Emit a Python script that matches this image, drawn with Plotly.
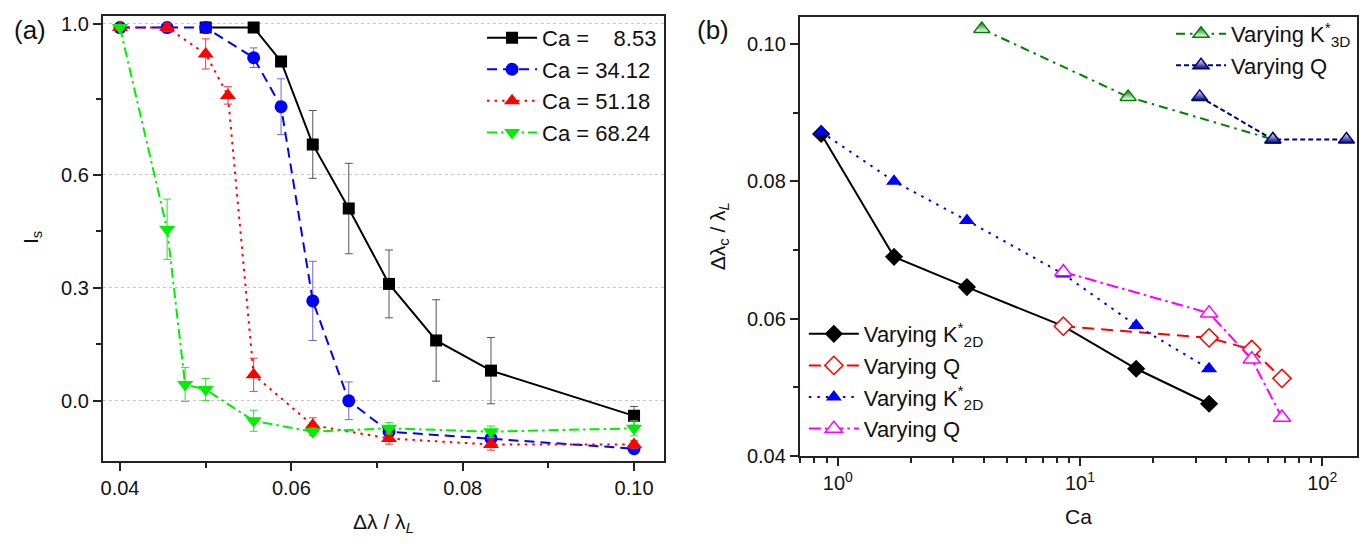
import plotly.graph_objects as go

# ---------------- Panel (a) data ----------------
x_a_black = [0.05, 0.0556, 0.0588, 0.0625, 0.0667, 0.0714, 0.0769, 0.0833, 0.10]
y_a_black = [0.99, 0.99, 0.90, 0.68, 0.51, 0.31, 0.16, 0.08, -0.04]
e_a_black = [0, 0, 0, 0.09, 0.12, 0.09, 0.108, 0.088, 0.025]

x_a_blue = [0.04, 0.0455, 0.05, 0.0556, 0.0588, 0.0625, 0.0667, 0.0714, 0.0833, 0.10]
y_a_blue = [0.99, 0.99, 0.99, 0.91, 0.78, 0.265, 0.0, -0.082, -0.10, -0.127]
e_a_blue = [0, 0, 0, 0.026, 0.074, 0.105, 0.05, 0.012, 0.012, 0.012]

x_a_red = [0.04, 0.0455, 0.05, 0.0526, 0.0556, 0.0625, 0.0714, 0.0833, 0.10]
y_a_red = [0.99, 0.99, 0.92, 0.81, 0.069, -0.065, -0.10, -0.116, -0.116]
e_a_red = [0, 0.01, 0.04, 0.023, 0.044, 0.02, 0.015, 0.015, 0.01]

x_a_green = [0.04, 0.0455, 0.0476, 0.05, 0.0556, 0.0625, 0.0714, 0.0833, 0.10]
y_a_green = [0.99, 0.455, 0.043, 0.030, -0.053, -0.082, -0.073, -0.082, -0.073]
e_a_green = [0, 0.08, 0.045, 0.029, 0.028, 0.01, 0.015, 0.015, 0.02]

names_a = ["Ca =\u00a0\u00a0\u00a0\u00a08.53", "Ca = 34.12", "Ca = 51.18", "Ca = 68.24"]

a_yticks = [0.0, 0.3, 0.6, 1.0]
a_yminor = [0.15, 0.45, 0.8]
a_xticks = [0.04, 0.06, 0.08, 0.10]
a_xminor = [0.05, 0.07, 0.09]

# ---------------- Panel (b) data ----------------
ca_k2d = [0.853, 1.706, 3.412, 8.53, 17.06, 34.12]
y_k2d_black = [0.0869, 0.0690, 0.0646, 0.0589, 0.0527, 0.0476]
y_k2d_blue = [0.0872, 0.0800, 0.0743, 0.0665, 0.0590, 0.0527]

ca_q = [8.53, 34.12, 51.18, 68.24]
y_q_red = [0.0589, 0.0572, 0.0555, 0.0513]
y_q_magenta = [0.0668, 0.0608, 0.0541, 0.0456]

ca_k3d = [3.93, 15.8, 62.6]
y_k3d = [0.1022, 0.0923, 0.0861]

ca_q3d = [31.2, 62.6, 126.0]
y_q3d = [0.0923, 0.0861, 0.0861]

b_yticks = [0.04, 0.06, 0.08, 0.10]
b_yminor = [0.05, 0.07, 0.09]
b_xticks = [1, 10, 100]
b_xticktext = ["10<sup>0</sup>", "10<sup>1</sup>", "10<sup>2</sup>"]
b_xminor = [0.7, 0.8, 0.9, 2, 3, 4, 5, 6, 7, 8, 9, 20, 30, 40, 50, 60, 70, 80, 90]

FONT = "Liberation Sans, Arial, sans-serif"
TICK = 20
LEG = 22
TITLE = 21

fig = go.Figure()

# Panel (a) traces
def add_a(x, y, e, name, color, ecolor, dash, symbol, size):
    fig.add_trace(go.Scatter(
        x=x, y=y, name=name, mode="lines+markers",
        line=dict(color=color, width=2, dash=dash),
        marker=dict(symbol=symbol, size=size, color=color),
        error_y=dict(type="data", array=e, visible=True, color=ecolor,
                     thickness=1, width=4),
        xaxis="x", yaxis="y", legend="legend"))

add_a(x_a_black, y_a_black, e_a_black, names_a[0], "black", "#555555", "solid", "square", 12)
add_a(x_a_blue, y_a_blue, e_a_blue, names_a[1], "#0000ff", "#6a6ad8", "10px,6px", "circle", 13)
add_a(x_a_red, y_a_red, e_a_red, names_a[2], "#ff0000", "#ff3030", "2.5px,5px", "triangle-up", 14)
add_a(x_a_green, y_a_green, e_a_green, names_a[3], "#00ee00", "#33dd33", "10px,4px,2.5px,4px", "triangle-down", 14)

# Panel (b) traces
def add_b(x, y, name, color, dash, marker, legend):
    fig.add_trace(go.Scatter(
        x=x, y=y, name=name, mode="lines+markers",
        line=dict(color=color, width=2, dash=dash),
        marker=marker, xaxis="x2", yaxis="y2", legend=legend))

add_b(ca_k2d, y_k2d_black, "Varying K<sup>*</sup><sub>2D</sub>", "black", "solid",
      dict(symbol="diamond", size=14, color="black"), "legend3")
add_b(ca_q, y_q_red, "Varying Q", "#ff0000", "12px,7px",
      dict(symbol="diamond", size=14, color="white", line=dict(color="#ff0000", width=1.5)), "legend3")
add_b(ca_k2d, y_k2d_blue, "Varying K<sup>*</sup><sub>2D</sub>", "#0000ff", "2.5px,6px",
      dict(symbol="triangle-up", size=14, color="#0000ff"), "legend3")
add_b(ca_q, y_q_magenta, "Varying Q", "#ff00ff", "12px,4px,2.5px,4px",
      dict(symbol="triangle-up", size=15, color="white", line=dict(color="#ff00ff", width=1.5)), "legend3")
add_b(ca_k3d, y_k3d, "Varying K<sup>*</sup><sub>3D</sub>", "#008000", "9px,5px,2.5px,5px",
      dict(symbol="triangle-up", size=14, color="#008000",
           gradient=dict(type="vertical", color="white"),
           line=dict(color="#008000", width=1.5)), "legend2")
add_b(ca_q3d, y_q3d, "Varying Q", "#000080", "5px,3px",
      dict(symbol="triangle-up", size=14, color="white",
           gradient=dict(type="vertical", color="#000080"),
           line=dict(color="#000080", width=1.5)), "legend2")

W, H = 1369, 544
def px(v):
    return v / W
def py(v):
    return (H - v) / H

axis_common = dict(showline=True, linecolor="#222222", linewidth=2, mirror=True,
                   ticks="outside", ticklen=8, tickwidth=1.5, tickcolor="#222222",
                   tickfont=dict(family=FONT, size=TICK, color="#111111"),
                   zeroline=False, showgrid=False)

minor_style = dict(tickmode="array", ticks="outside", ticklen=5,
                   tickcolor="#222222", tickwidth=1.5)

fig.update_layout(
    width=W, height=H, autosize=False,
    margin=dict(l=0, r=0, t=0, b=0),
    paper_bgcolor="white", plot_bgcolor="white",
    font=dict(family=FONT, color="#111111"),
    xaxis=dict(domain=[px(93), px(655)], range=[0.038, 0.1035],
               tickmode="array", tickvals=a_xticks, tickformat=".2f",
               minor=dict(tickvals=a_xminor, **minor_style),
               title=dict(text="Δλ / λ<sub><i>L</i></sub>",
                          font=dict(family=FONT, size=TITLE), standoff=16),
               anchor="y", **axis_common),
    yaxis=dict(domain=[py(462), py(5)], range=[-0.16, 1.021],
               tickmode="array", tickvals=a_yticks, tickformat=".1f",
               minor=dict(tickvals=a_yminor, **minor_style),
               anchor="x", **{**axis_common, "showgrid": True},
               gridcolor="#c8c8c8", griddash="dot", gridwidth=1),
    xaxis2=dict(domain=[px(791), px(1349)], type="log", range=[-0.157, 2.144],
                tickmode="array", tickvals=b_xticks, ticktext=b_xticktext,
                minor=dict(tickvals=b_xminor, **minor_style),
                title=dict(text="Ca", font=dict(family=FONT, size=TITLE), standoff=16),
                anchor="y2", **axis_common),
    yaxis2=dict(domain=[py(456.7), py(5.7)], range=[0.04, 0.104],
                tickmode="array", tickvals=b_yticks, tickformat=".2f",
                minor=dict(tickvals=b_yminor, **minor_style),
                title=dict(text="Δλ<sub>c</sub> / λ<sub><i>L</i></sub>",
                           font=dict(family=FONT, size=TITLE), standoff=16),
                anchor="x2", **axis_common),
    legend=dict(x=px(653), y=py(6), xanchor="right", yanchor="top",
                bgcolor="rgba(255,255,255,0)", font=dict(family=FONT, size=LEG),
                itemwidth=50, tracegroupgap=0),
    legend2=dict(x=px(1348), y=py(2), xanchor="right", yanchor="top",
                 bgcolor="rgba(255,255,255,0)", font=dict(family=FONT, size=LEG),
                 itemwidth=50),
    legend3=dict(x=px(795), y=py(310), xanchor="left", yanchor="top",
                 bgcolor="rgba(255,255,255,0)", font=dict(family=FONT, size=LEG),
                 itemwidth=50),
    annotations=[
        dict(text="(a)", x=px(2), y=py(20), xref="paper", yref="paper",
             xanchor="left", yanchor="middle", showarrow=False,
             font=dict(family=FONT, size=26, color="#111111")),
        dict(text="(b)", x=px(686), y=py(20), xref="paper", yref="paper",
             xanchor="left", yanchor="middle", showarrow=False,
             font=dict(family=FONT, size=26, color="#111111")),
        dict(text="I<sub>s</sub>", x=px(22), y=py(232), xref="paper", yref="paper",
             xanchor="center", yanchor="middle", showarrow=False, textangle=-90,
             font=dict(family=FONT, size=TITLE, color="#111111")),
    ],
)

fig.write_html("out.html")
